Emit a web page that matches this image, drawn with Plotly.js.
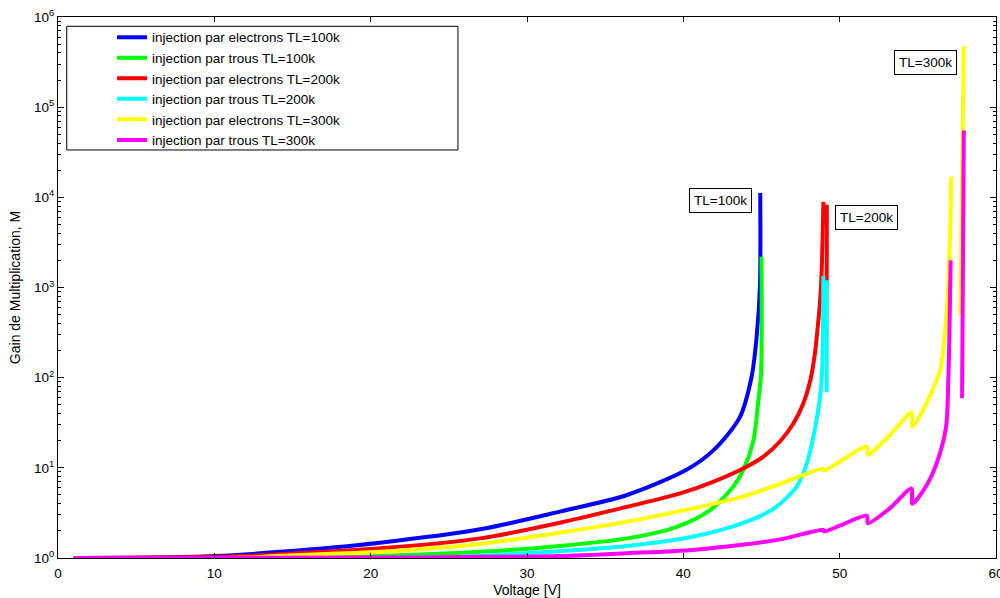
<!DOCTYPE html>
<html>
<head>
<meta charset="utf-8">
<script src="https://cdn.plot.ly/plotly-3.0.1.min.js"></script>
<style>
  html, body { margin: 0; padding: 0; background: #fff; }
  #chart { width: 1000px; height: 598px; }
</style>
</head>
<body>
<div id="chart"></div>
<script>
// Multiplication gain M versus reverse voltage, for electron and hole injection
// at three lattice temperatures. null splits a curve into separate branches.

const seriesNames = [
  'injection par electrons TL=100k',
  'injection par trous TL=100k',
  'injection par electrons TL=200k',
  'injection par trous TL=200k',
  'injection par electrons TL=300k',
  'injection par trous TL=300k'
];
const seriesColors = ['#0000ff', '#00ff00', '#ff0000', '#00ffff', '#ffff00', '#ff00ff'];

// electrons, TL = 100 K
const vElec100 = [1, 6, 10, 14.2, 20.6, 27, 32.1, 36.4, 40.2, 41.9, 43.6, 44.37, 44.69, 44.9, 44.92];
const mElec100 = [1, 1.01, 1.05, 1.17, 1.48, 2.08, 3.27, 5.0, 9.5, 15.5, 36, 103, 285, 1020, 11200];

// holes, TL = 100 K
const vHole100 = [1, 15, 20.6, 27, 32.1, 36.4, 39.58, 41.71, 43.2, 43.84, 44.48, 44.8, 44.97, 45.0];
const mHole100 = [1, 1.01, 1.05, 1.17, 1.36, 1.65, 2.22, 3.4, 6.2, 9.5, 20, 56, 110, 2200];

// electrons, TL = 200 K
const vElec200 = [1, 10, 14.2, 20.6, 27, 32.1, 36.4, 39.8, 41.9, 44.05, 45.12, 46.18, 47.04, 47.68, 48.1, 48.42, 48.64, 48.74, 48.85, 48.96, null, 49.17, 49.18];
const mElec200 = [1, 1.03, 1.1, 1.28, 1.65, 2.46, 3.7, 5.2, 7.0, 10.3, 13.3, 19.6, 31, 52, 90, 187, 437, 670, 1580, 8900, null, 1100, 8300];

// holes, TL = 200 K
const vHole200 = [1, 25, 28, 32.1, 36.4, 40.6, 43.7, 45.76, 47.25, 47.9, 48.4, 48.75, 48.88, 48.96, null, 49.17, 49.18];
const mHole200 = [1, 1.02, 1.08, 1.19, 1.36, 1.72, 2.4, 3.5, 6.2, 11.2, 26, 62, 120, 1340, null, 69, 1200];

// electrons, TL = 300 K
const vElec300 = [1, 12, 14.2, 20.6, 27, 32.1, 36.4, 40.6, 43.6, 46.0, 48.95, 49.0, 50.0, 51.74, 51.8, 53.2, 54.6, 54.65, 55.5, 56.1, 56.45, 56.8, 57.01, 57.14, null, 57.72, 57.94];
const mElec300 = [1, 1.01, 1.06, 1.17, 1.43, 1.91, 2.53, 3.55, 4.7, 6.45, 9.8, 9.3, 11.7, 17.2, 14, 23, 41, 28.6, 50, 85, 125, 420, 2040, 17000, null, 490, 470000];

// holes, TL = 300 K
const vHole300 = [1, 20, 27, 32.1, 36.4, 40.6, 43.6, 46.2, 48.95, 49.0, 50.0, 51.74, 51.8, 53.2, 54.6, 54.65, 55.57, 56.2, 56.8, 56.95, 57.1, null, 57.83, 57.94];
const mHole300 = [1, 1.01, 1.03, 1.05, 1.13, 1.23, 1.39, 1.61, 2.05, 1.97, 2.28, 2.95, 2.43, 3.55, 5.9, 4.0, 6.45, 11.2, 28, 94, 2000, null, 59, 55000];

const xSeries = [vElec100, vHole100, vElec200, vHole200, vElec300, vHole300];
const ySeries = [mElec100, mHole100, mElec200, mHole200, mElec300, mHole300];

// axis ticks
const xTickVals = [0, 10, 20, 30, 40, 50, 60];
const yTickExps = [0, 1, 2, 3, 4, 5, 6];

// temperature labels placed next to the breakdown spikes: [voltage, log10(M), text]
const tempLabels = [
  [42.35, 3.97, 'TL=100k'],
  [51.69, 3.78, 'TL=200k'],
  [55.48, 5.50, 'TL=300k']
];

const FONT = 'Liberation Sans, Arial, Helvetica, sans-serif';

const traces = seriesNames.map((name, i) => ({
  type: 'scatter',
  mode: 'lines',
  name: name,
  legendgroup: 'g' + i,
  x: xSeries[i],
  y: ySeries[i],
  connectgaps: false,
  line: { color: seriesColors[i], width: 4, shape: 'spline', smoothing: 0.8 },
  hoverinfo: 'skip'
}));

const yTickVals = yTickExps.map(e => Math.pow(10, e));
const yTickText = yTickExps.map(e => '10<sup>' + e + '</sup>');
const yMinorVals = [];
for (let e = 0; e < 6; e++) {
  for (let k = 2; k <= 9; k++) yMinorVals.push(k * Math.pow(10, e));
}

const layout = {
  width: 1000,
  height: 598,
  margin: { l: 58, r: 4, t: 17, b: 40 },
  paper_bgcolor: '#ffffff',
  plot_bgcolor: '#ffffff',
  font: { family: FONT, size: 13, color: '#000' },
  showlegend: true,
  legend: {
    x: 0.0576, y: 0.991, xanchor: 'left', yanchor: 'top',
    bgcolor: 'rgba(0,0,0,0)', borderwidth: 0,
    tracegroupgap: 0,
    font: { family: FONT, size: 13.5, color: '#000' }
  },
  xaxis: {
    range: [0, 60],
    tickmode: 'array', tickvals: xTickVals,
    ticks: 'inside', ticklen: 5, tickwidth: 1, tickcolor: '#000',
    showline: true, linecolor: '#000', linewidth: 1, mirror: 'ticks',
    showgrid: false, zeroline: false,
    ticklabelstandoff: 3,
    ticklabeloverflow: 'allow',
    tickfont: { family: FONT, size: 13.5, color: '#000' },
    title: { text: 'Voltage [V]', font: { family: FONT, size: 14, color: '#000' }, standoff: 4 }
  },
  yaxis: {
    type: 'log',
    range: [0, 6],
    tickmode: 'array', tickvals: yTickVals, ticktext: yTickText,
    ticks: 'inside', ticklen: 6, tickwidth: 1, tickcolor: '#000',
    minor: { tickmode: 'array', tickvals: yMinorVals, ticks: 'inside', ticklen: 3, tickcolor: '#000', showgrid: false },
    showline: true, linecolor: '#000', linewidth: 1, mirror: 'ticks',
    showgrid: false, zeroline: false,
    ticklabeloverflow: 'allow',
    tickfont: { family: FONT, size: 13.5, color: '#000' },
    title: { text: 'Gain de Multiplication, M', font: { family: FONT, size: 14, color: '#000' }, standoff: 10 }
  },
  shapes: [{
    type: 'rect', xref: 'paper', yref: 'paper',
    x0: 0.0093, x1: 0.4264, y0: 0.7542, y1: 0.9828,
    line: { color: '#000', width: 1 }, fillcolor: '#ffffff', layer: 'above'
  }],
  annotations: tempLabels.map(t => ({
    x: t[0], y: t[1], xref: 'x', yref: 'y',
    text: t[2], showarrow: false,
    font: { family: FONT, size: 13.5, color: '#000' },
    bgcolor: '#ffffff', bordercolor: '#000', borderwidth: 1, borderpad: 4
  }))
};

Plotly.newPlot('chart', traces, layout, { staticPlot: true, displayModeBar: false });
</script>
</body>
</html>
